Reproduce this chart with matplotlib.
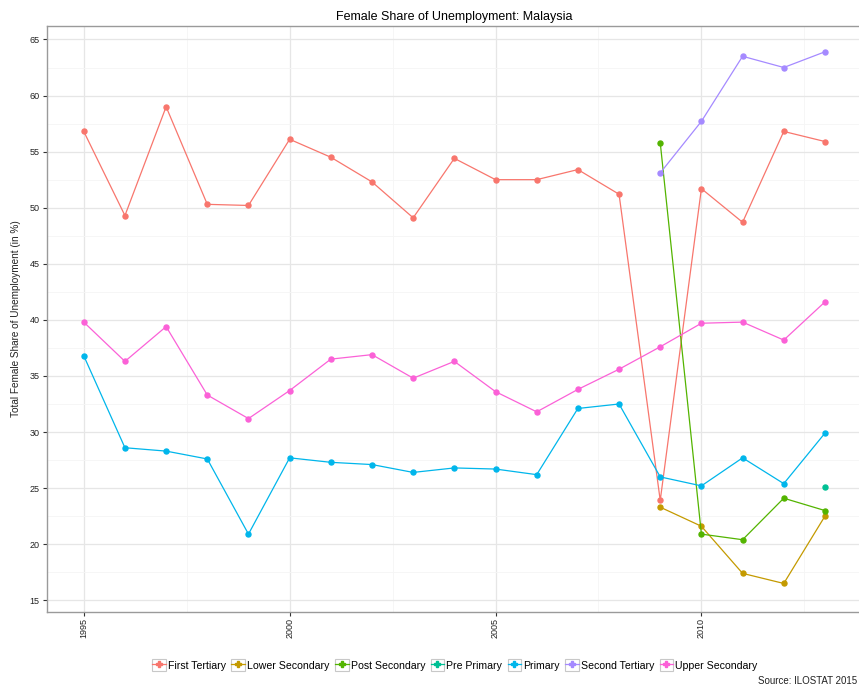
import numpy as np
import matplotlib
matplotlib.use("Agg")
import matplotlib.pyplot as plt
from matplotlib.lines import Line2D
from matplotlib.patches import Rectangle
from matplotlib.legend_handler import HandlerLine2D
from matplotlib import font_manager

names = [f.name for f in font_manager.fontManager.ttflist]
NARROW = "Liberation Sans Narrow" if "Liberation Sans Narrow" in names else "Liberation Sans"
plt.rcParams['font.family'] = ['Liberation Sans', 'DejaVu Sans']

years = list(range(1995, 2014))
N = None

first_tertiary = [56.8, 49.3, 59.0, 50.3, 50.2, 56.1, 54.5, 52.3, 49.1, 54.4,
                  52.5, 52.5, 53.4, 51.2, 23.9, 51.7, 48.7, 56.8, 55.9]
lower_secondary = [N] * 14 + [23.3, 21.6, 17.4, 16.5, 22.5]
post_secondary = [N] * 14 + [55.8, 20.9, 20.4, 24.1, 23.0]
pre_primary = [N] * 18 + [25.1]
primary = [36.8, 28.6, 28.3, 27.6, 20.9, 27.7, 27.3, 27.1, 26.4, 26.8,
           26.7, 26.2, 32.1, 32.5, 26.0, 25.2, 27.7, 25.4, 29.9]
second_tertiary = [N] * 14 + [53.1, 57.7, 63.5, 62.5, 63.9]
upper_secondary = [39.8, 36.3, 39.4, 33.3, 31.2, 33.7, 36.5, 36.9, 34.8, 36.3,
                   33.6, 31.8, 33.8, 35.6, 37.6, 39.7, 39.8, 38.2, 41.6]

series = [
    ("First Tertiary", first_tertiary, "#F8766D"),
    ("Lower Secondary", lower_secondary, "#C49A00"),
    ("Post Secondary", post_secondary, "#53B400"),
    ("Pre Primary", pre_primary, "#00C094"),
    ("Primary", primary, "#00B6EB"),
    ("Second Tertiary", second_tertiary, "#A58AFF"),
    ("Upper Secondary", upper_secondary, "#FB61D7"),
]

W, H = 859, 687
fig = plt.figure(figsize=(W / 100, H / 100), dpi=100)
ax = fig.add_axes([46.7 / W, 1 - 611.5 / H, (862 - 46.7) / W, (611.5 - 26) / H])

for name, vals, col in series:
    v = np.array([np.nan if x is None else x for x in vals], dtype=float)
    ax.plot(years, v, color=col, lw=0.9, marker='o', ms=3.6, mec=col, mfc=col, zorder=3)

ax.set_xlim(1994.1, 2013.9)
ax.set_ylim(14.0, 66.2)
ax.set_xticks([1995, 2000, 2005, 2010])
ax.set_xticks([1997.5, 2002.5, 2007.5, 2012.5], minor=True)
ax.set_yticks([15, 20, 25, 30, 35, 40, 45, 50, 55, 60, 65])
ax.set_yticks(np.arange(17.5, 66, 5), minor=True)
ax.grid(True, which='major', color='#E6E6E6', lw=0.9, zorder=0)
ax.grid(True, which='minor', color='#F5F5F5', lw=0.6, zorder=0)
ax.set_axisbelow(True)

for s in ['left', 'top', 'bottom']:
    ax.spines[s].set_color('#9A9A9A')
    ax.spines[s].set_linewidth(1.0)
ax.spines['right'].set_visible(False)

ax.tick_params(axis='both', which='major', length=3, width=0.8, color='#333333', pad=2)
ax.tick_params(axis='both', which='minor', length=0)
ax.tick_params(axis='y', labelsize=6.5, labelcolor='#222222')
ax.tick_params(axis='x', labelsize=6.5, labelcolor='#222222', labelrotation=90)
for lab in ax.get_yticklabels():
    lab.set_family([NARROW, 'Liberation Sans'])

ax.set_title("Female Share of Unemployment: Malaysia", fontsize=9, pad=4)
ax.set_ylabel("Total Female Share of Unemployment (in %)", fontsize=7.2, labelpad=6, color='#222222')


class BoxedHandler(HandlerLine2D):
    def create_artists(self, legend, orig_handle, xdescent, ydescent, width, height, fontsize, trans):
        arts = super().create_artists(legend, orig_handle, xdescent, ydescent, width, height, fontsize, trans)
        rect = Rectangle((-xdescent, -ydescent), width, height, fc='white', ec='#C8C8C8', lw=0.8, transform=trans)
        return [rect] + list(arts)


handles = [Line2D([], [], color=c, lw=0.9, marker='P', ms=4.5, mec=c, mfc=c) for _, _, c in series]
labels = [n for n, _, _ in series]
leg = fig.legend(handles, labels, loc='center', bbox_to_anchor=(455 / W, 1 - 665 / H), ncol=7,
                 frameon=False, handlelength=1.3, handleheight=1.3, handletextpad=0.2,
                 columnspacing=0.5, borderpad=0, prop={'family': [NARROW, 'Liberation Sans'], 'size': 7.6},
                 handler_map={Line2D: BoxedHandler(numpoints=1)})

fig.text(857 / W, 1 / H, "Source: ILOSTAT 2015", ha='right', va='bottom', fontsize=7,
         family=[NARROW, 'Liberation Sans'], color='#222222')

fig.savefig("out.png", dpi=100)
